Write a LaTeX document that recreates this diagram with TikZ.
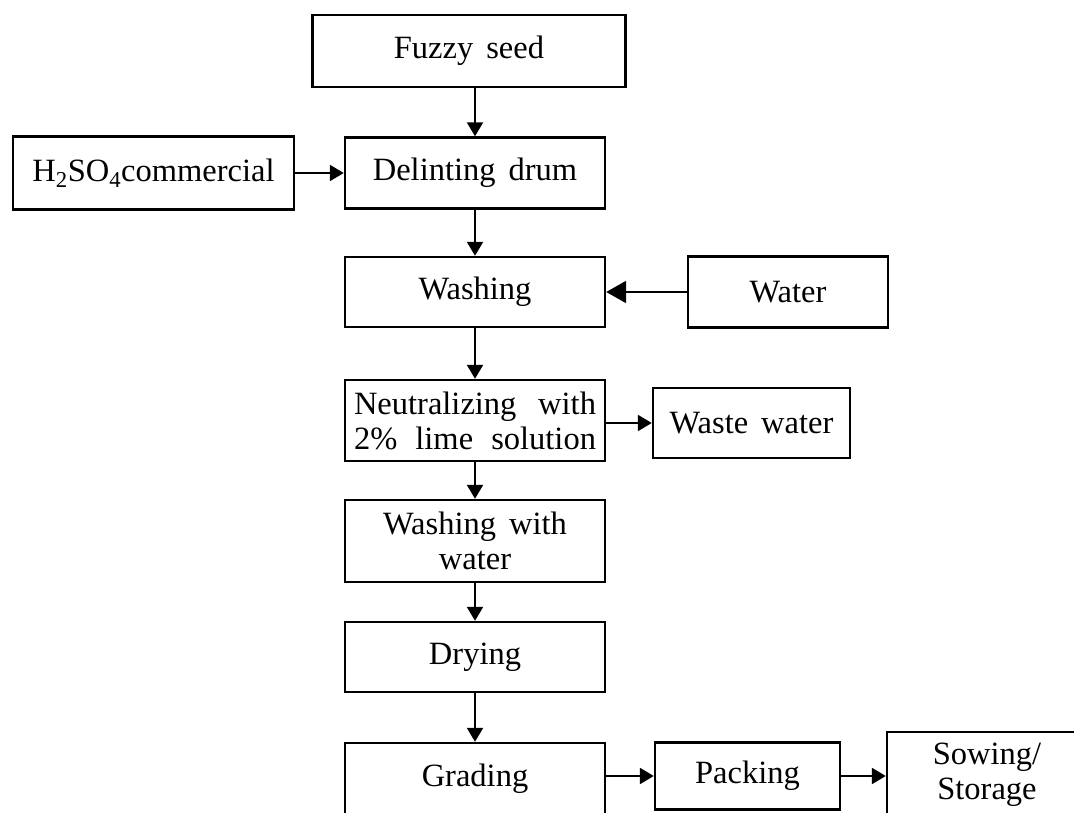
\documentclass[tikz,border=0pt]{standalone}
\usepackage{fontspec}
\setmainfont{Liberation Serif}[WordSpace=1.6]
\usetikzlibrary{arrows.meta}

\tikzset{
  stage/.style={draw, line width=2.4pt, inner sep=0pt, align=center,
    minimum width=260pt, minimum height=71pt,
    font=\fontsize{32.5}{35}\selectfont},
  flow/.style={line width=2.2pt, -{Triangle[length=14pt,width=16pt]}},
  bigflow/.style={line width=2.2pt, -{Triangle[length=20pt,width=22pt]}},
}

\begin{document}
\begin{tikzpicture}[x=1pt, y=-1pt]
  \path[use as bounding box, clip] (0,0) rectangle (1074,813);

  % main column
  \node[stage, minimum width=313pt, minimum height=72pt] (fuzzy) at (469,51) {Fuzzy seed};
  \node[stage] (delint) at (475,173) {Delinting drum};
  \node[stage, minimum height=70pt] (wash) at (475,292) {Washing};
  \node[stage, minimum height=81pt, text width=242pt] (neutral) at (475,420.5)
    {Neutralizing\hfill with\\2\%\hfill lime\hfill solution};
  \node[stage, minimum height=82pt] (washw) at (475,541) {Washing with\\water};
  \node[stage, minimum height=70pt] (dry) at (475,657) {Drying};
  \node[stage, minimum height=72pt] (grade) at (475,779) {Grading};

  % side inputs and outputs
  \node[stage, minimum width=281pt, minimum height=73pt] (acid) at (153.5,173)
    {H\textsubscript{2}SO\textsubscript{4}commercial};
  \node[stage, minimum width=200pt] (water) at (788,292) {Water};
  \node[stage, minimum width=197pt, minimum height=70pt] (waste) at (751.5,423) {Waste water};
  \node[stage, minimum width=185pt, minimum height=67pt] (pack) at (747.5,776) {Packing};
  \node[stage, minimum width=200pt, minimum height=86pt] (sow) at (987,775) {Sowing/\\Storage};

  % arrows
  \draw[flow] (fuzzy.south -| delint) -- (delint);
  \draw[flow] (acid) -- (delint);
  \draw[flow] (delint) -- (wash);
  \draw[bigflow] (water) -- (wash);
  \draw[flow] (wash) -- (neutral);
  \draw[flow] (neutral.east |- waste) -- (waste);
  \draw[flow] (neutral) -- (washw);
  \draw[flow] (washw) -- (dry);
  \draw[flow] (dry) -- (grade);
  \draw[flow] (grade.east |- pack) -- (pack);
  \draw[flow] (pack) -- (sow.west |- pack);
\end{tikzpicture}
\end{document}
